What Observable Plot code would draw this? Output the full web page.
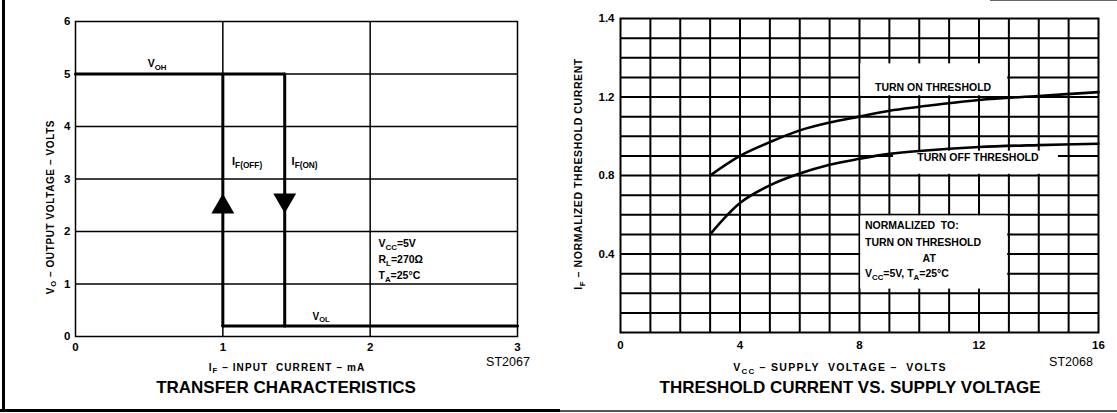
<!DOCTYPE html>
<html><head><meta charset="utf-8">
<script src="https://cdn.jsdelivr.net/npm/d3@7"></script>
<script src="https://cdn.jsdelivr.net/npm/@observablehq/plot@0.6"></script>
<style>
body{margin:0;background:#fff;}
#wrap{position:relative;width:1117px;height:413px;overflow:hidden;background:#fff;font-family:"Liberation Sans",Arial,sans-serif;color:#000;}
.panel{position:absolute;top:0;}
.title{position:absolute;font-weight:bold;font-size:17px;white-space:nowrap;transform:translate(-50%,-50%);}
.code{position:absolute;font-size:12.5px;white-space:nowrap;transform:translate(-50%,-50%);}
.rule{position:absolute;}
</style></head>
<body><div id="wrap"></div>
<script>
// ---------- Left chart: transfer characteristics ----------
const xTicksL = [0, 1, 2, 3];
const yTicksL = [0, 1, 2, 3, 4, 5, 6];
const vOH = 5.0;      // output high level (V)
const vOL = 0.2;      // output low level (V)
const ifOff = 1.0;    // I_F(OFF) mA
const ifOn = 1.42;    // I_F(ON) mA
const ifMax = 3;
const arrowUpY = 2.47;
const arrowDownY = 2.6;

// ---------- Right chart: threshold current vs supply voltage ----------
const vcc      = [3,    4,    5,    6,    7,     8,    9,    10,   12,    14,    16];
const turnOn   = [0.80, 0.90, 0.97, 1.03, 1.07,  1.10, 1.13, 1.15, 1.185, 1.205, 1.225];
const turnOff  = [0.50, 0.66, 0.75, 0.81, 0.855, 0.885,0.91, 0.925,0.945, 0.955, 0.962];
const xTicksR = [0, 4, 8, 12, 16];
const yTickValsR = [0.4, 0.8, 1.2, 1.6];
const yTickTextR = ["0.4", "0.8", "1.2", "1.4"];

// annotation boxes (data space) on right chart
const boxes = [
  {x1: 8, x2: 13, y1: 1.2, y2: 1.375},
  {x1: 9.1, x2: 14.7, y1: 0.8, y2: 0.93},
  {x1: 8, x2: 13, y1: 0.215, y2: 0.6}
];

const font = "Liberation Sans, Arial, sans-serif";

const segs = [
  {s: "oh",  x: 0,     y: vOH}, {s: "oh",  x: ifOn,  y: vOH},
  {s: "on",  x: ifOn,  y: vOH}, {s: "on",  x: ifOn,  y: vOL},
  {s: "off", x: ifOff, y: vOL}, {s: "off", x: ifOff, y: vOH},
  {s: "ol",  x: ifOff, y: vOL}, {s: "ol",  x: ifMax, y: vOL}
];

const sq3 = Math.sqrt(3);
const triUp = {draw(c, size){ const y = -Math.sqrt(size/(sq3*3)); c.moveTo(0, y*2); c.lineTo(-sq3*y, -y); c.lineTo(sq3*y, -y); c.closePath(); }};
const triDown = {draw(c, size){ const y = Math.sqrt(size/(sq3*3)); c.moveTo(0, y*2); c.lineTo(-sq3*y, -y); c.lineTo(sq3*y, -y); c.closePath(); }};

const left = Plot.plot({
  width: 560, height: 375,
  marginLeft: 75, marginRight: 43, marginTop: 21, marginBottom: 39,
  x: {domain: [0, 3]}, y: {domain: [0, 6]},
  style: {fontFamily: font, fontSize: "11.5px", fontWeight: "bold", color: "#000", background: "#fff", overflow: "visible"},
  marks: [
    Plot.gridX([1, 2], {stroke: "#000", strokeOpacity: 1, strokeWidth: 1.5}),
    Plot.gridY([1, 2, 3, 4, 5], {stroke: "#000", strokeOpacity: 1, strokeWidth: 1.5}),
    Plot.frame({stroke: "#000", strokeWidth: 1.5}),
    Plot.line(segs, {x: "x", y: "y", z: "s", stroke: "#000", strokeWidth: 3}),
    Plot.dot([{x: ifOff, y: arrowUpY}], {x: "x", y: "y", symbol: triUp, r: 8.5, fill: "#000", stroke: null}),
    Plot.dot([{x: ifOn, y: arrowDownY}], {x: "x", y: "y", symbol: triDown, r: 8.5, fill: "#000", stroke: null}),
    Plot.axisX(xTicksL, {tickSize: 0, tickPadding: 6, label: null, fontWeight: "bold", tickFormat: d => String(d)}),
    Plot.axisY(yTicksL, {tickSize: 0, tickPadding: 5, label: null, fontWeight: "bold", tickFormat: d => String(d)})
  ]
});

const right = Plot.plot({
  width: 557, height: 375,
  marginLeft: 60, marginRight: 19, marginTop: 18, marginBottom: 43,
  x: {domain: [0, 16]}, y: {domain: [0, 1.6]},
  style: {fontFamily: font, fontSize: "11.5px", fontWeight: "bold", color: "#000", background: "#fff", overflow: "visible"},
  marks: [
    Plot.gridX(d3.range(1, 16), {stroke: "#000", strokeOpacity: 1, strokeWidth: 2}),
    Plot.gridY(d3.range(1, 16).map(i => i / 10), {stroke: "#000", strokeOpacity: 1, strokeWidth: 2}),
    Plot.rect(boxes, {x1: "x1", x2: "x2", y1: "y1", y2: "y2", fill: "#fff", inset: 1.2}),
    Plot.frame({stroke: "#000", strokeWidth: 2}),
    Plot.line(vcc.map((v, i) => ({x: v, y: turnOn[i]})), {x: "x", y: "y", stroke: "#000", strokeWidth: 2.6, curve: "catmull-rom"}),
    Plot.line(vcc.map((v, i) => ({x: v, y: turnOff[i]})), {x: "x", y: "y", stroke: "#000", strokeWidth: 2.6, curve: "catmull-rom"}),
    Plot.axisX(xTicksR, {tickSize: 0, tickPadding: 8, label: null, fontWeight: "bold"}),
    Plot.axisY(yTickValsR, {tickSize: 0, tickPadding: 6, label: null, fontWeight: "bold",
      tickFormat: d => yTickTextR[yTickValsR.indexOf(d)]})
  ]
});

const wrap = document.getElementById("wrap");
left.classList.add("panel"); left.style.left = "0px";
right.classList.add("panel"); right.style.left = "560px";
wrap.appendChild(left); wrap.appendChild(right);

// rich text with subscripts, positioned in pixel space of an svg
function rich(svg, x, y, parts, o = {}) {
  const size = o.size || 10, anchor = o.anchor || "start";
  const t = d3.select(svg).append("text")
    .attr("transform", `translate(${x},${y}) rotate(${o.rotate || 0})`)
    .attr("y", size * 0.36)
    .attr("text-anchor", anchor).attr("font-size", size)
    .attr("font-weight", o.weight || "bold").attr("letter-spacing", o.ls || 0)
    .attr("fill", "#000").attr("font-family", font);
  let shifted = false;
  parts.forEach(p => {
    const [str, sub] = Array.isArray(p) ? p : [p, false];
    const ts = t.append("tspan").text(str);
    if (sub && !shifted) { ts.attr("dy", size * 0.28).attr("font-size", size * 0.75); shifted = true; }
    else if (sub) { ts.attr("font-size", size * 0.75); }
    else if (shifted) { ts.attr("dy", -size * 0.28); shifted = false; }
  });
  return t;
}
function at(svg, x, y) { return [svg.scale("x").apply(x), svg.scale("y").apply(y)]; }

// left annotations
rich(left, ...at(left, 0.557, 5.2), ["V", ["OH", true]], {anchor: "middle", size: 10.5});
rich(left, ...at(left, 1.066, 3.34), ["I", ["F(OFF)", true]], {size: 11});
rich(left, ...at(left, 1.47, 3.34), ["I", ["F(ON)", true]], {size: 11});
rich(left, ...at(left, 1.67, 0.38), ["V", ["OL", true]], {anchor: "middle", size: 10});
rich(left, ...at(left, 2.06, 1.77), ["V", ["CC", true], "=5V"], {size: 10.5});
rich(left, ...at(left, 2.06, 1.46), ["R", ["L", true], "=270Ω"], {size: 10.5});
rich(left, ...at(left, 2.06, 1.16), ["T", ["A", true], "=25°C"], {size: 10.5});
rich(left, 50, 207, ["V", ["O", true], " – OUTPUT VOLTAGE – VOLTS"], {anchor: "middle", size: 10, rotate: -90, ls: 0.6});
rich(left, 287, 367, ["I", ["F", true], " – INPUT  CURRENT – mA"], {anchor: "middle", size: 10, ls: 1.1});

// right annotations
rich(right, ...at(right, 10.48, 1.248), ["TURN ON THRESHOLD"], {anchor: "middle", size: 10.5});
rich(right, ...at(right, 11.98, 0.892), ["TURN OFF THRESHOLD"], {anchor: "middle", size: 10.5});
rich(right, ...at(right, 8.2, 0.545), ["NORMALIZED  TO:"], {size: 10.5});
rich(right, ...at(right, 8.2, 0.459), ["TURN ON THRESHOLD"], {size: 10.5});
rich(right, ...at(right, 10.35, 0.377), ["AT"], {anchor: "middle", size: 10.5});
rich(right, ...at(right, 8.2, 0.30), ["V", ["CC", true], "=5V, T", ["A", true], "=25°C"], {size: 10.5});
rich(right, 18, 174, ["I", ["F", true], " – NORMALIZED THRESHOLD CURRENT"], {anchor: "middle", size: 10.5, rotate: -90, ls: 0.6});
rich(right, 280, 367, ["V", ["CC", true], " – SUPPLY  VOLTAGE –  VOLTS"], {anchor: "middle", size: 10.5, ls: 1.3});

// titles, codes, frame rules
function div(cls, text, x, y) { const d = document.createElement("div"); d.className = cls; d.textContent = text; d.style.left = x + "px"; d.style.top = y + "px"; wrap.appendChild(d); }
div("code", "ST2067", 508, 362);
div("code", "ST2068", 1071, 362);
div("title", "TRANSFER CHARACTERISTICS", 286, 388);
div("title", "THRESHOLD CURRENT VS. SUPPLY VOLTAGE", 850, 388);
function rule(x, y, w, h, c) { const d = document.createElement("div"); d.className = "rule"; Object.assign(d.style, {left: x + "px", top: y + "px", width: w + "px", height: h + "px", background: c}); wrap.appendChild(d); }
rule(2, 0, 3, 411, "#000");
rule(0, 409, 560, 3, "#000");
rule(560, 410, 557, 2, "#555");
rule(990, 0, 127, 1, "#666");
</script></body></html>
